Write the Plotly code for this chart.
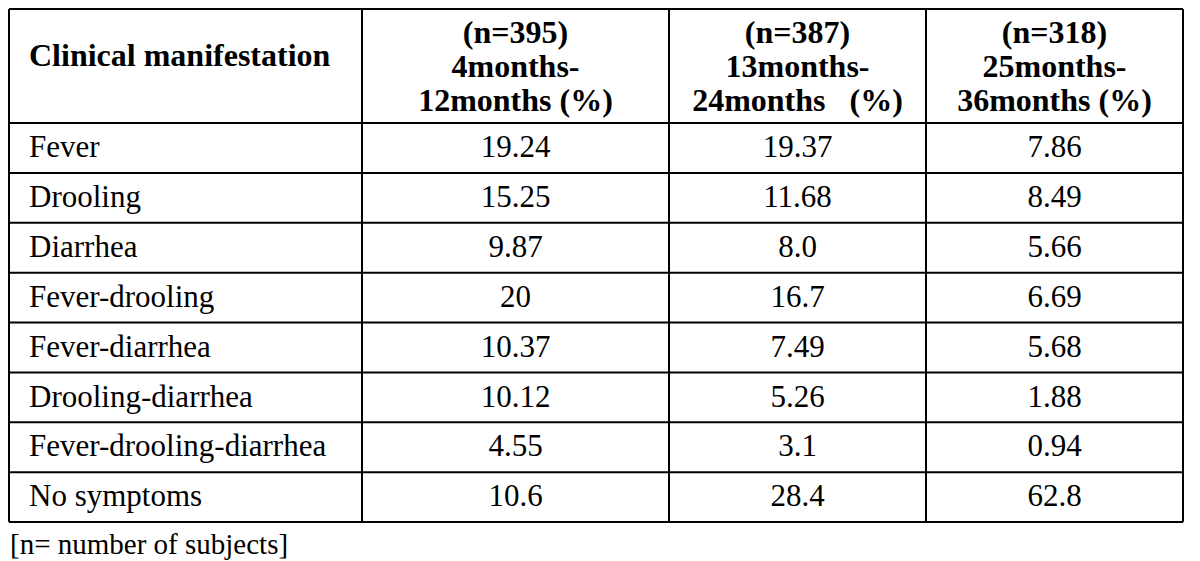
import plotly.graph_objects as go

# ---------------- data ----------------
manifestations = ["Fever", "Drooling", "Diarrhea", "Fever-drooling", "Fever-diarrhea",
                  "Drooling-diarrhea", "Fever-drooling-diarrhea", "No symptoms"]
group_4_12 = [19.24, 15.25, 9.87, 20, 10.37, 10.12, 4.55, 10.6]
group_13_24 = [19.37, 11.68, 8.0, 16.7, 7.49, 5.26, 3.1, 28.4]
group_25_36 = [7.86, 8.49, 5.66, 6.69, 5.68, 1.88, 0.94, 62.8]
first_header = "Clinical manifestation"
group_headers = [
    ["(n=395)", "4months-", "12months (%)"],
    ["(n=387)", "13months-", "24months\u00a0\u00a0\u00a0(%)"],
    ["(n=318)", "25months-", "36months (%)"],
]
footnote = "[n= number of subjects]"

# ---------------- layout constants (pixels) ----------------
W, H = 1192, 553
col_edges = [1, 354, 661, 918, 1175]
table_top, header_bottom, table_bottom = 1, 115, 514
header_line_offsets = [25.5, 60, 94]      # centre of each header line below table top
first_header_offset = 49
text_shift = 1.5                          # small downward nudge of body text
left_pad = 20
FONT = "Liberation Serif"
line_style = dict(color="black", width=2)

n_rows = len(manifestations)
row_h = (table_bottom - header_bottom) / n_rows
row_centers = [header_bottom + (i + 0.5) * row_h + text_shift for i in range(n_rows)]
col_centers = [(col_edges[i] + col_edges[i + 1]) / 2 for i in range(len(col_edges) - 1)]

fig = go.Figure()

# body: first column (left aligned)
fig.add_trace(go.Scatter(
    x=[col_edges[0] + left_pad] * n_rows, y=row_centers, text=manifestations,
    mode="text", textposition="middle right",
    textfont=dict(family=FONT, size=31, color="black"),
    hoverinfo="skip", showlegend=False, cliponaxis=False,
))

# body: value columns (centred)
for j, series in enumerate([group_4_12, group_13_24, group_25_36]):
    fig.add_trace(go.Scatter(
        x=[col_centers[j + 1]] * n_rows, y=row_centers, text=[str(v) for v in series],
        mode="text", textposition="middle center",
        textfont=dict(family=FONT, size=31, color="black"),
        hoverinfo="skip", showlegend=False, cliponaxis=False,
    ))

# header: first column
fig.add_trace(go.Scatter(
    x=[col_edges[0] + left_pad], y=[table_top + first_header_offset], text=[first_header],
    mode="text", textposition="middle right",
    textfont=dict(family=FONT, size=32, color="black", weight="bold"),
    hoverinfo="skip", showlegend=False, cliponaxis=False,
))

# header: group columns, one text per line
for j, lines in enumerate(group_headers):
    fig.add_trace(go.Scatter(
        x=[col_centers[j + 1]] * len(lines),
        y=[table_top + off for off in header_line_offsets],
        text=lines, mode="text", textposition="middle center",
        textfont=dict(family=FONT, size=32, color="black", weight="bold"),
        hoverinfo="skip", showlegend=False, cliponaxis=False,
    ))

# grid lines
shapes = []
for x in col_edges:
    shapes.append(dict(type="line", xref="x", yref="y", x0=x, x1=x,
                       y0=table_top, y1=table_bottom, line=line_style))
h_edges = [table_top, header_bottom] + [header_bottom + (i + 1) * row_h for i in range(n_rows)]
for y in h_edges:
    shapes.append(dict(type="line", xref="x", yref="y", x0=col_edges[0], x1=col_edges[-1],
                       y0=y, y1=y, line=line_style))

fig.add_annotation(
    text=footnote, xref="x", yref="y", x=0, y=table_bottom + 22,
    xanchor="left", yanchor="middle", showarrow=False,
    font=dict(family=FONT, size=29, color="black"),
)

fig.update_layout(
    width=W, height=H,
    margin=dict(l=0, r=0, t=0, b=0),
    paper_bgcolor="white", plot_bgcolor="white",
    shapes=shapes,
    xaxis=dict(range=[0, W], visible=False, fixedrange=True),
    yaxis=dict(range=[H, 0], visible=False, fixedrange=True),
)

fig.write_html("out.html")
